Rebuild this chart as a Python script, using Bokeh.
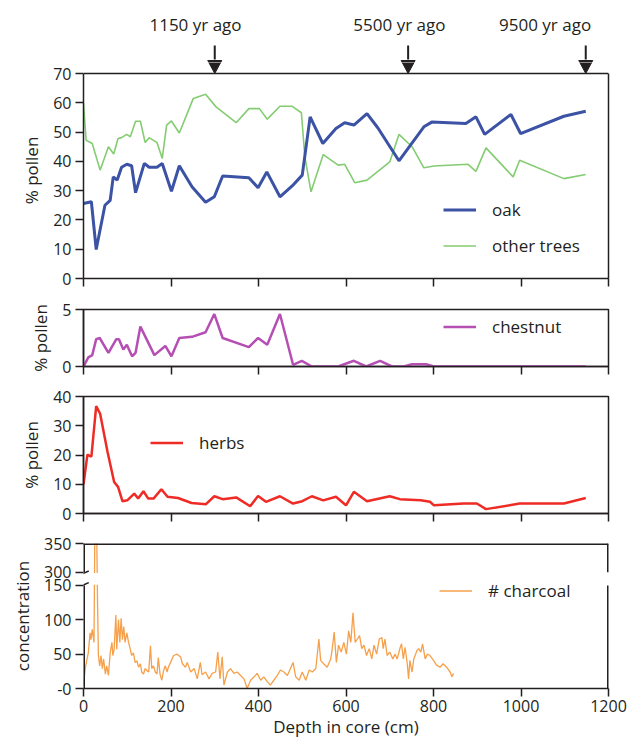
from bokeh.plotting import figure
from bokeh.models import (Range1d, LinearAxis, FixedTicker, Legend, LegendItem, Span)
from bokeh.core.properties import value
from bokeh.layouts import column
from bokeh.embed import file_html
from bokeh.resources import INLINE

# ---------------- data ----------------
x_ticks = [0, 200, 400, 600, 800, 1000, 1200]

event_depth = [300, 742, 1148]
event_label_depth = [256, 722, 1055]
event_labels = ["1150 yr ago", "5500 yr ago", "9500 yr ago"]

oak_depth = [0, 18, 29, 49, 61, 68, 77, 87, 99, 110, 119, 139, 150, 168, 180, 201, 219, 248,
             279, 299, 318, 378, 399, 419, 449, 477, 500, 518, 547, 577, 597, 618, 648, 673,
             721, 778, 796, 874, 897, 917, 977, 999, 1098, 1148]
oak = [25.6, 26.2, 9.9, 25, 26.7, 34.7, 33.6, 38, 39, 38.5, 29.3, 39.3, 38, 38, 39.3, 29.8,
       38.5, 31.3, 26, 27.9, 35, 34.4, 31, 36.4, 27.9, 31.6, 35.3, 55.2, 46.1, 51.2, 53.2,
       52.4, 56.3, 51.4, 40.2, 51.8, 53.4, 52.9, 55.2, 49.2, 56, 49.5, 55.4, 57.1]

other_depth = [0, 6, 20, 38, 57, 69, 79, 87, 99, 107, 119, 130, 141, 150, 168, 180, 190, 201,
               219, 251, 279, 303, 349, 378, 402, 420, 449, 477, 498, 506, 520, 548, 582, 597,
               620, 648, 700, 721, 751, 778, 801, 879, 897, 920, 982, 997, 1098, 1148]
other_trees = [59.8, 47.2, 46.1, 37, 45, 42.5, 47.8, 48.1, 49.2, 48.4, 53.7, 53.7, 46.4, 48.1,
               46.4, 41, 52.4, 53.8, 49.7, 61.5, 62.9, 58.6, 53.2, 58, 58, 54.4, 58.8, 58.8,
               56.6, 41.5, 29.6, 42.3, 38.7, 39, 32.7, 33.6, 39.8, 49.2, 45, 37.8, 38.4, 39,
               36.6, 44.6, 34.7, 40.4, 34.1, 35.5]

chestnut_depth = [0, 11, 20, 29, 37, 57, 75, 81, 91, 99, 111, 119, 130, 162, 187, 201, 219,
                  248, 279, 299, 318, 378, 399, 420, 449, 479, 499, 522, 582, 618, 646, 678,
                  705, 732, 751, 783, 801, 1148]
chestnut = [0, 0.8, 1.0, 2.4, 2.5, 1.2, 2.4, 2.4, 1.5, 1.9, 0.9, 1.2, 3.5, 1.0, 1.8, 0.9, 2.5,
            2.6, 3.0, 4.6, 2.5, 1.7, 2.5, 1.9, 4.6, 0.15, 0.5, 0, 0, 0.5, 0, 0.5, 0, 0, 0.2,
            0.2, 0, 0]

herbs_depth = [0, 9, 18, 29, 38, 55, 70, 79, 89, 100, 116, 125, 137, 148, 160, 178, 192, 216,
               247, 280, 299, 318, 349, 381, 399, 417, 449, 479, 500, 522, 548, 577, 600, 618,
               648, 700, 723, 771, 792, 801, 869, 899, 920, 997, 1098, 1148]
herbs = [10, 20.1, 19.4, 36.7, 34.1, 21, 10.8, 9.1, 4.2, 4.5, 6.8, 5.1, 7.6, 5.1, 5.1, 8.3,
         5.7, 5.3, 3.6, 3.2, 5.9, 4.9, 5.5, 2.5, 6, 4, 5.9, 3.4, 4.2, 5.9, 4.5, 5.7, 2.8, 7.4,
         4.2, 5.9, 4.9, 4.5, 4, 2.8, 3.4, 3.4, 1.5, 3.4, 3.4, 5.3]

charcoal_depth = [0, 4, 8, 11, 15, 17, 20, 24, 26, 30, 32, 34, 37, 40, 43, 46, 50, 53, 57, 61,
                  65, 67, 70, 74, 76, 80, 83, 86, 89, 92, 95, 99, 103, 107, 110, 114, 118, 122,
                  126, 130, 133, 137, 141, 145, 149, 153, 156, 160, 164, 168, 171, 175, 179,
                  183, 187, 191, 194, 199, 206, 214, 222, 226, 233, 237, 245, 253, 260, 267,
                  271, 279, 287, 294, 302, 307, 312, 317, 321, 329, 336, 344, 351, 359, 367,
                  374, 382, 390, 397, 405, 412, 420, 427, 435, 443, 450, 458, 466, 473, 479,
                  485, 493, 500, 508, 516, 523, 531, 538, 542, 549, 557, 565, 568, 573, 578,
                  583, 589, 595, 601, 606, 611, 616, 621, 626, 631, 636, 641, 647, 653, 659,
                  664, 670, 676, 682, 685, 689, 694, 700, 707, 712, 717, 724, 727, 731, 735,
                  740, 743, 746, 751, 755, 762, 766, 771, 775, 781, 786, 792, 800, 807, 815,
                  822, 830, 838, 842, 846]
charcoal = [5, 29, 43, 52, 81, 71, 86, 67, 380, 380, 130, 48, 33, 48, 29, 43, 21, 33, 19, 52,
            67, 48, 57, 107, 57, 100, 67, 102, 71, 90, 67, 81, 67, 57, 48, 52, 38, 40,
            31, 36, 24, 21, 29, 26, 24, 62, 29, 33, 24, 21, 45, 21, 12,
            26, 33, 24, 31, 38, 48, 50, 46, 36, 31, 38, 24, 29, 14, 38,
            20, 24, 14, 22, 24, 53, 14, 46, 5, 24, 29, 22, 24, 19, 14,
            0, 12, 17, 22, 12, 17, 10, 5, 12, 19, 27, 24, 19, 29, 38,
            17, 12, 24, 12, 27, 24, 29, 72, 41, 36, 31, 43, 55, 82, 38,
            63, 53, 67, 50, 84, 67, 110, 67, 72, 77, 58, 63, 48, 58, 43,
            63, 50, 72, 74, 58, 72, 48, 53, 43, 50, 43, 60, 65, 43, 60,
            36, 14, 41, 24, 43, 55, 58, 53, 65, 43, 50, 48, 41, 34, 31,
            36, 31, 24, 17, 22]
charcoal_lower_ticks = [0, 50, 100, 150]
charcoal_upper_ticks = [300, 350]

# ---------------- style ----------------
FONT = "Open Sans"
TXT = "#231f20"
W = 630
LB, RB = 83, 22
TICK_FS = "16px"
LAB_FS = "17px"

OAK_C = "#3b52a5"
OTHER_C = "#84cc72"
CHEST_C = "#b54fb3"
HERB_C = "#ee2b24"
CHAR_C = "#f6a04a"

x_range = Range1d(0, 1200)

# panel 1 vertical scale (px per % unit); the header continues the same scale upward
K1 = 205 / 70.0
HEAD_H = 62
P1_FRAME = 278 - HEAD_H            # frame of panel 1 reaches 11 px above the 70 line
P1_TOP = P1_FRAME / K1
HEAD_TOP = P1_TOP + HEAD_H / K1


def base_fig(height, top, bottom, y0, y1, **kw):
    p = figure(width=W, height=height, x_range=x_range, y_range=Range1d(y0, y1),
               output_backend="svg", toolbar_location=None,
               min_border_left=LB, min_border_right=RB,
               min_border_top=top, min_border_bottom=bottom, **kw)
    p.grid.visible = False
    p.outline_line_color = TXT
    p.outline_line_width = 1.5
    return p


def style_axis(ax, ticks, show_labels=True):
    ax.ticker = FixedTicker(ticks=ticks)
    ax.minor_tick_line_color = None
    ax.major_tick_out = 8
    ax.major_tick_in = 0
    ax.major_tick_line_width = 1.5
    ax.major_tick_line_color = TXT
    ax.axis_line_width = 1.5
    ax.axis_line_color = TXT
    ax.major_label_text_font = FONT
    ax.major_label_standoff = 4
    if show_labels:
        ax.major_label_text_color = TXT
        ax.major_label_text_font_size = TICK_FS
    else:
        ax.major_label_text_color = None
        ax.major_label_text_font_size = "6px"
        ax.major_label_standoff = 0
    ax.axis_label_text_font = FONT
    ax.axis_label_text_font_size = LAB_FS
    ax.axis_label_text_font_style = "normal"
    ax.axis_label_text_color = TXT
    ax.axis_label_standoff = 7


def bare_axis(**kw):
    return LinearAxis(ticker=FixedTicker(ticks=[]), major_label_text_color=None,
                      major_label_text_font_size="6px",
                      major_tick_line_color=None, minor_tick_line_color=None,
                      axis_line_width=1.5, axis_line_color=TXT, **kw)


def make_legend(p, items, loc):
    lg = Legend(items=items, location=loc, padding=0, margin=0, spacing=13,
                glyph_width=33, glyph_height=23, label_height=23, label_standoff=16,
                border_line_color=None, background_fill_alpha=0,
                label_text_font=FONT, label_text_font_size=LAB_FS, label_text_color=TXT)
    p.add_layout(lg)


# event arrows, in panel-1 % units (continued above the frame)
shaft_top = (278 - 45) / K1
head_base = (278 - 60) / K1
head_half = 16
arrow_xs = [[d - head_half, d + head_half, d] for d in event_depth]
arrow_ys = [[head_base, head_base, 70] for _ in event_depth]

# ---- header (event labels and arrows) ----
p0 = figure(width=W, height=HEAD_H, x_range=x_range, y_range=Range1d(P1_TOP, HEAD_TOP),
            output_backend="svg", toolbar_location=None,
            x_axis_location=None, y_axis_location=None,
            min_border_left=LB, min_border_right=RB, min_border_top=0, min_border_bottom=0)
p0.grid.visible = False
p0.outline_line_color = None
p0.segment(x0=event_depth, y0=[shaft_top] * 3, x1=event_depth, y1=[head_base + 0.3] * 3,
           line_color=TXT, line_width=2)
p0.patches(arrow_xs, arrow_ys, fill_color=TXT, line_color=TXT, line_width=1)
p0.text(x=event_label_depth, y=[(278 - 23.7) / K1] * 3, text=event_labels,
        text_font=value(FONT), text_font_size=value("17px"), text_color=TXT,
        text_align="center", text_baseline="middle")

# ---- panel 1: oak / other trees ----
p1 = base_fig(P1_FRAME + 21, 0, 21, 0, P1_TOP)
p1.outline_line_color = None
style_axis(p1.xaxis[0], x_ticks, show_labels=False)
style_axis(p1.yaxis[0], [0, 10, 20, 30, 40, 50, 60, 70])
p1.yaxis[0].bounds = (0, 70)
p1.yaxis[0].axis_label = "% pollen"
p1.add_layout(bare_axis(bounds=(0, 70)), "right")
p1.add_layout(Span(location=70, dimension="width", line_color=TXT, line_width=1.5))
r_other = p1.line(other_depth, other_trees, line_color=OTHER_C, line_width=1.6)
r_oak = p1.line(oak_depth, oak, line_color=OAK_C, line_width=3)
p1.patches(arrow_xs, arrow_ys, fill_color=TXT, line_color=TXT, line_width=1)
make_legend(p1, [LegendItem(label="oak", renderers=[r_oak]),
                 LegendItem(label="other trees", renderers=[r_other])], (360, 21))

# ---- panel 2: chestnut ----
p2 = base_fig(87, 10, 20, 0, 5)
style_axis(p2.xaxis[0], x_ticks, show_labels=False)
style_axis(p2.yaxis[0], [0, 5])
p2.yaxis[0].axis_label = "% pollen"
r_ch = p2.line(chestnut_depth, chestnut, line_color=CHEST_C, line_width=2.5)
make_legend(p2, [LegendItem(label="chestnut", renderers=[r_ch])], (360, 28))

# ---- panel 3: herbs ----
p3 = base_fig(147, 10, 20, 0, 40)
style_axis(p3.xaxis[0], x_ticks, show_labels=False)
style_axis(p3.yaxis[0], [0, 10, 20, 30, 40])
p3.yaxis[0].axis_label = "% pollen"
r_hb = p3.line(herbs_depth, herbs, line_color=HERB_C, line_width=2.5)
make_legend(p3, [LegendItem(label="herbs", renderers=[r_hb])], (67, 59))

# ---- panel 4: charcoal with a broken axis (0-150 below, 300-350 above) ----
BREAK_LO = charcoal_lower_ticks[-1]       # plotted position where the lower part ends
BREAK_HI = 169                            # plotted position of 300
UPPER_SCALE = 0.84                        # upper part is drawn slightly compressed


def broken(v):
    return v if v <= BREAK_LO else BREAK_HI + (v - charcoal_upper_ticks[0]) * UPPER_SCALE


upper_pos = [broken(v) for v in charcoal_upper_ticks]
P4_TOP = upper_pos[-1]

p4 = base_fig(211, 10, 56, 0, P4_TOP)
p4.outline_line_color = None
style_axis(p4.xaxis[0], x_ticks)
p4.xaxis[0].major_label_standoff = 3
p4.xaxis[0].axis_label = "Depth in core (cm)"
p4.xaxis[0].axis_label_standoff = 0
style_axis(p4.yaxis[0], charcoal_lower_ticks + upper_pos)
p4.yaxis[0].axis_line_color = None
overrides = {0: "-0"}
for v, pos in zip(charcoal_upper_ticks, upper_pos):
    overrides[pos] = str(v)
p4.yaxis[0].major_label_overrides = overrides
p4.yaxis[0].axis_label = "concentration"

r_char = p4.line(charcoal_depth, [broken(v) for v in charcoal], line_color=CHAR_C,
                 line_width=1.3)
# white band hides the break
p4.quad(left=-20, right=1220, bottom=BREAK_LO + 0.8, top=BREAK_HI - 0.8,
        fill_color="white", line_color=None)
# frame pieces (left and right edges broken, top edge)
p4.segment(x0=[0, 0, 1200, 1200, 0], y0=[0, BREAK_HI, 0, BREAK_HI, P4_TOP],
           x1=[0, 0, 1200, 1200, 1200], y1=[BREAK_LO, P4_TOP, BREAK_LO, P4_TOP, P4_TOP],
           line_color=TXT, line_width=3)
# break marks
p4.segment(x0=[-10, -10], y0=[BREAK_LO - 2, BREAK_HI - 4], x1=[12, 12],
           y1=[BREAK_LO + 4, BREAK_HI + 2], line_color=TXT, line_width=1.5)
make_legend(p4, [LegendItem(label="# charcoal", renderers=[r_char])], (356, 86))

layout = column(p0, p1, p2, p3, p4, spacing=0)
open("out.html", "w").write(file_html(layout, INLINE))
